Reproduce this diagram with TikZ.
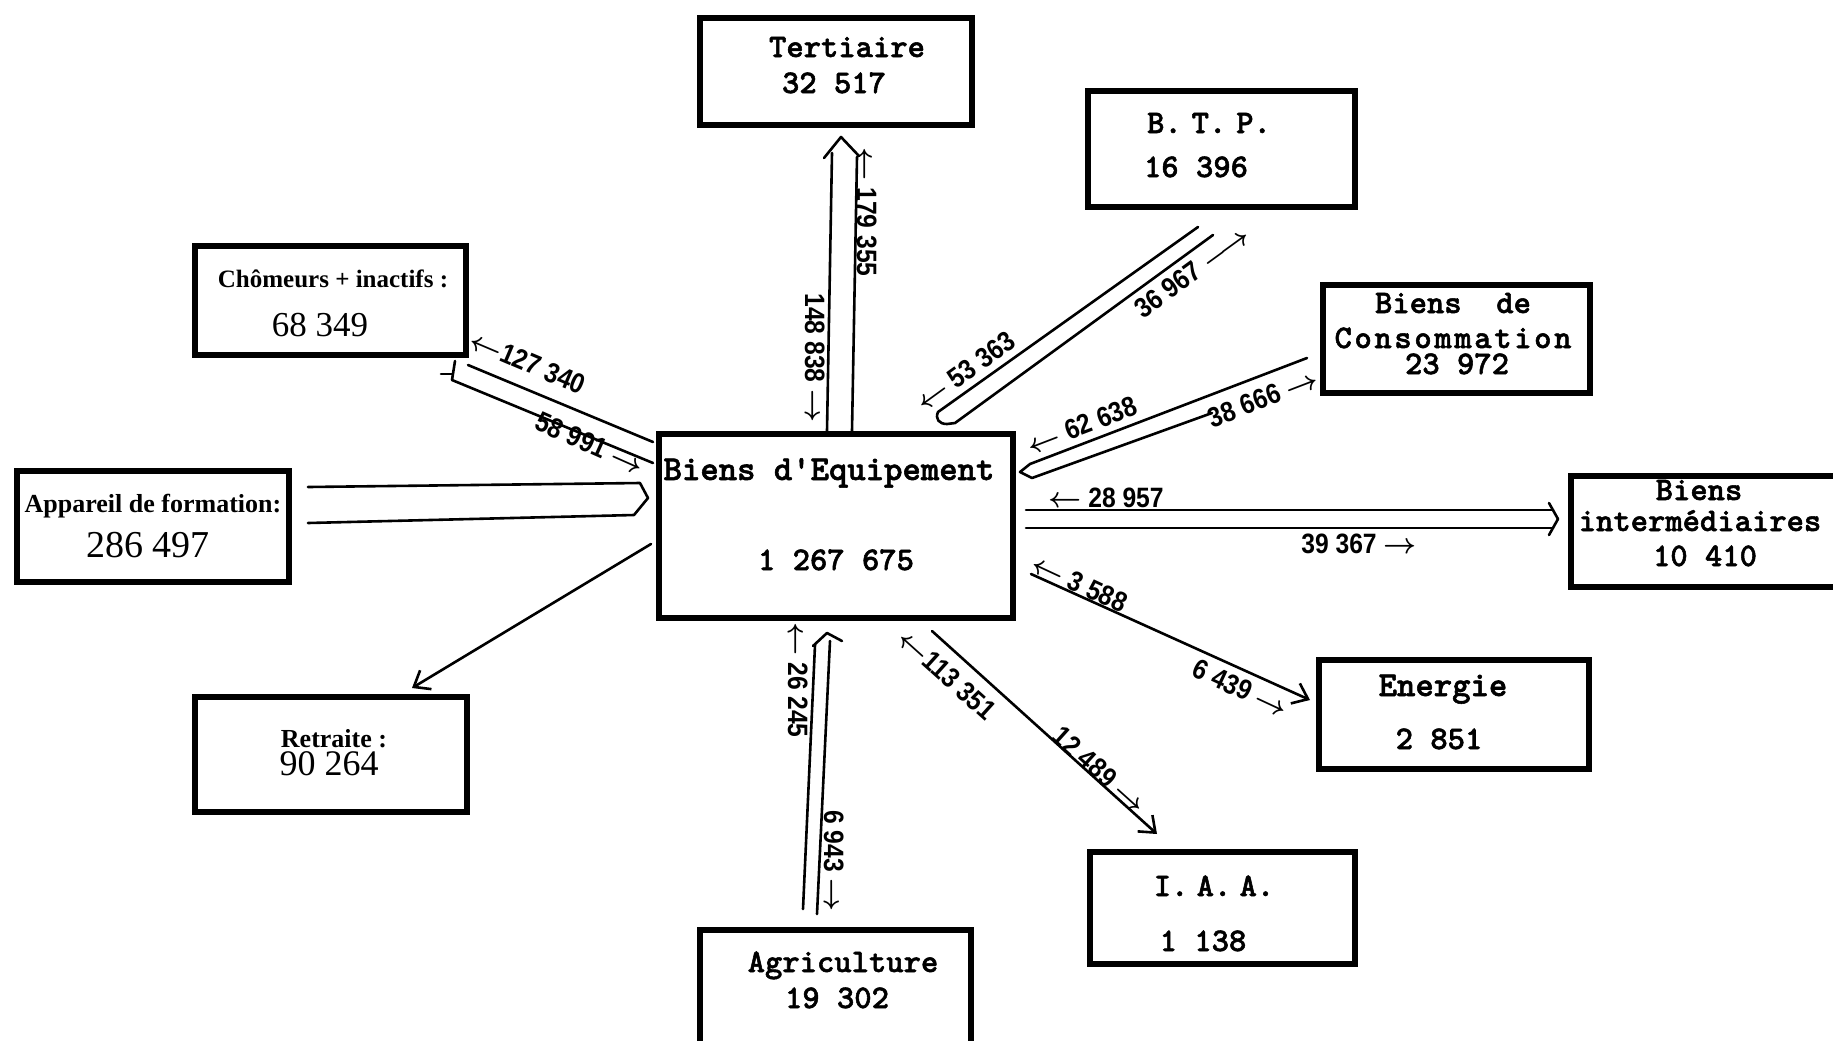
\documentclass[tikz,border=0pt]{standalone}
\usepackage{fontspec}
\setmainfont{Liberation Serif}
\newfontfamily\twf{lmmonolt10-bold.otf}[FakeBold=1.6]
\newfontfamily\labf{Liberation Sans}[FakeStretch=0.88]
\usetikzlibrary{arrows.meta,fit}
\newcommand\lar{{\boldmath$\leftarrow$}}
\newcommand\rar{{\boldmath$\rightarrow$}}
\newcommand\lrar{{\boldmath$\longrightarrow$}}
\tikzset{
  box/.style={draw, line width=2.8pt, inner sep=0pt, rectangle},
  tt/.style={font=\fontsize{16.5}{18}\selectfont\twf, inner sep=0pt, text height=10pt, text depth=0pt},
  ttL/.style={tt, font=\fontsize{17.5}{18}\selectfont\twf},
  srb/.style={font=\fontsize{13}{14}\selectfont\bfseries, inner sep=0pt, text height=8.6pt, text depth=0pt},
  srn/.style={font=\fontsize{18}{20}\selectfont, inner sep=0pt, text height=12pt, text depth=0pt},
  lab/.style={font=\fontsize{14}{15}\selectfont\labf\bfseries, inner sep=0pt, text height=10pt, text depth=0pt},
  conn/.style={line width=1.3pt, line cap=round, line join=round},
  tip/.style={-{Straight Barb[length=7pt,width=11pt]}}
}
\begin{document}
\begin{tikzpicture}[x=0.5pt,y=-0.5pt]
\useasboundingbox (0,0) rectangle (1833,1040);
% ---------------- boxes
\node[box, fit={(700,18)(972,125)}] (tert) {};
\node[box, fit={(1088,91)(1355,207)}] (btp) {};
\node[box, fit={(1323,285)(1590,393)}] (conso) {};
\node[box, fit={(1571,476)(1860,587)}] (inter) {};
\node[box, fit={(1319,660)(1589,769)}] (ener) {};
\node[box, fit={(1090,852)(1355,964)}] (iaa) {};
\node[box, fit={(700,930)(971,1070)}] (agri) {};
\node[box, fit={(195,697)(467,812)}] (retr) {};
\node[box, fit={(17,471)(289,582)}] (appa) {};
\node[box, fit={(195,246)(466,355)}] (chom) {};
\node[box, line width=3.2pt, fit={(659,434)(1013,618)}] (cent) {};
% ---------------- box texts
\node[tt] (tertT) at (847,47) {Tertiaire};
\node[tt] (tertN) at (834,83) {32 517};
\node[tt] (btpT) at (1209,123) {B.\hspace{.3em}T.\hspace{.3em}P.};
\node[tt] (btpN) at (1196,167) {16 396};
\node[tt] (consoT) at (1453,303) {Biens\ \ de};
\node[tt] (consoC) at (1453,338) {\addfontfeature{LetterSpace=8}Consommation};
\node[tt] (consoN) at (1457,364) {23 972};
\node[tt] (interT) at (1699,490) {Biens};
\node[tt] (interI) at (1700,521) {intermédiaires};
\node[tt] (interN) at (1705,556) {10 410};
\node[ttL] (enerT) at (1443,686) {Energie};
\node[tt] (enerN) at (1439,739) {2 851};
\node[tt] (iaaT) at (1214,886) {I.\hspace{.25em}A.\hspace{.25em}A.};
\node[tt] (iaaN) at (1203,941) {1 138};
\node[tt] (agriT) at (843,962) {Agriculture};
\node[tt] (agriN) at (837,998) {19 302};
\node[ttL] (centT) at (829,470) {Biens d\textquotesingle Equipement};
\node[tt] (centN) at (836,560) {1 267 675};
\node[srb, font=\fontsize{12.5}{14}\selectfont\bfseries] (chomT) at (333,279) {Chômeurs + inactifs :};
\node[srn, font=\fontsize{17.5}{20}\selectfont] (chomN) at (320,324) {68 349};
\node[srb] (appaT) at (153,504) {Appareil de formation:};
\node[srn, font=\fontsize{19}{20}\selectfont] (appaN) at (148,545) {286 497};
\node[srb] (retrT) at (334,739) {Retraite :};
\node[srn] (retrN) at (329,763) {90 264};
% ---------------- Tertiaire pair
\coordinate (tA1) at (832,153); \coordinate (tA2) at (827,431);
\coordinate (tB1) at (857,157); \coordinate (tB2) at (852,431);
\draw[conn] (tA1) -- (tA2);
\draw[conn] (tB1) -- (tB2);
\coordinate (tC1) at (824,158); \coordinate (tC2) at (841,137); \coordinate (tC3) at (859,156);
\draw[conn] (tC1) -- (tC2) -- (tC3);
\node[lab, rotate=-90] (l148) at (815,358) {148 838 \rar};
\node[lab, rotate=-90] (l179) at (867,212) {\lar\ 179 355};
% ---------------- BTP pair
\coordinate (bA1) at (938,412); \coordinate (bA2) at (1198,227);
\coordinate (bB1) at (955,423); \coordinate (bB2) at (1213,235);
\draw[conn] (bA2) -- (bA1) .. controls (935,419) and (939,424) .. (947,424) -- (bB1) -- (bB2);
\node[lab, rotate=36] (l53) at (965,371) {\lar\ 53 363};
\node[lab, rotate=36] (l36) at (1192,272) {36 967 \lrar};
% ---------------- Consommation pair
\coordinate (cA1) at (1030,464); \coordinate (cA2) at (1307,358);
\coordinate (cB1) at (1032,478); \coordinate (cB2) at (1212,413);
\coordinate (cX) at (1020,472);
\draw[conn] (cA2) -- (cA1) -- (cX) -- (cB1) -- (cB2);
\node[lab, rotate=21] (l62) at (1082,425) {\lar\ 62 638};
\node[lab, rotate=21] (l38) at (1263,398) {38 666 \rar};
% ---------------- Chomeurs pair
\coordinate (hA1) at (468,365); \coordinate (hA2) at (653,442);
\coordinate (hB1) at (452,380); \coordinate (hB2) at (653,463);
\draw[conn] (hA1) -- (hA2);
\draw[conn] (hB2) -- (hB1) -- (455,361);
\draw[conn] (441,374) -- (452,374);
\node[lab, rotate=-23] (l127) at (528,362) {\lar127 340};
\node[lab, rotate=-24] (l58) at (590,443) {58 991 \rar};
% ---------------- Appareil pair
\coordinate (aA1) at (308,487); \coordinate (aA2) at (640,483);
\coordinate (aB1) at (308,523); \coordinate (aB2) at (634,515);
\coordinate (aX) at (648,498);
\draw[conn] (aA1) -- (aA2) -- (aX) -- (aB2) -- (aB1);
% ---------------- Retraite
\coordinate (rS) at (651,544); \coordinate (rE) at (412,688);
\draw[conn, tip] (rS) -- (rE);
% ---------------- Biens intermediaires pair
\coordinate (iA1) at (1026,510); \coordinate (iA2) at (1553,510);
\coordinate (iB1) at (1026,528); \coordinate (iB2) at (1553,528);
\draw[conn] (iA1) -- (iA2);
\draw[conn] (iB1) -- (iB2);
\draw[conn] (1549,503) -- (1558,519) -- (1549,535);
\node[lab] (l28) at (1106,497) {\lar\ 28 957};
\node[lab] (l39) at (1359,543) {39 367 \rar};
% ---------------- Energie
\coordinate (eS) at (1031,574); \coordinate (eE) at (1310,700);
\draw[conn, tip] (eS) -- (eE);
\node[lab, rotate=-25] (l3) at (1080,583) {\lar\ 3 588};
\node[lab, rotate=-25] (l6) at (1241,688) {6 439 \rar};
% ---------------- IAA
\coordinate (jS) at (932,631); \coordinate (jE) at (1157,834);
\draw[conn, tip] (jS) -- (jE);
\node[lab, rotate=-42] (l113) at (947,674) {\lar113 351};
\node[lab, rotate=-42] (l12) at (1100,770) {12 489 \rar};
% ---------------- Agriculture pair
\coordinate (gA1) at (803,909); \coordinate (gA2) at (815,645);
\coordinate (gB1) at (817,914); \coordinate (gB2) at (830,641);
\draw[conn] (gA1) -- (gA2);
\draw[conn] (gB1) -- (gB2);
\draw[conn] (813,646) -- (827,633) -- (842,641);
\node[lab, rotate=-90] (l26) at (798,680) {\lar\ 26 245};
\node[lab, rotate=-90] (l69) at (834,861) {6 943 \rar};
\end{tikzpicture}
\end{document}
